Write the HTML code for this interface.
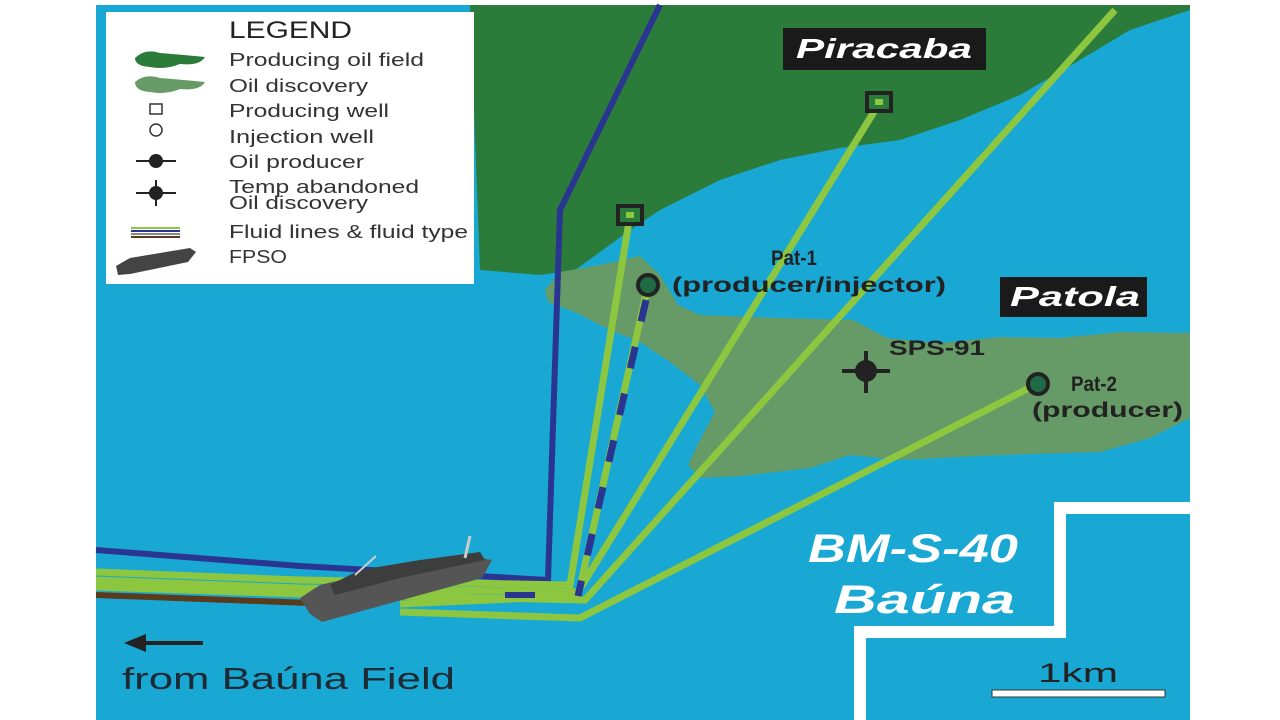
<!DOCTYPE html>
<html><head><meta charset="utf-8"><style>
html,body{margin:0;padding:0;background:#fff;width:1280px;height:720px;overflow:hidden}
svg{display:block}
text{font-family:"Liberation Sans",sans-serif}
</style></head><body>
<svg width="1280" height="720" viewBox="0 0 1280 720">
<rect x="0" y="0" width="1280" height="720" fill="#fff"/>
<rect x="96" y="5" width="1094" height="715" fill="#19a8d4"/>
<path d="M425,5 L1190,5 L1190,10 L1130,30 L1080,60 L1020,95 L960,120 L900,140 L840,148 L780,160 L720,180 L660,210 L630,230 L600,252 L575,270 L540,275 L480,270 L470,5 Z" fill="#2b7c3b"/>
<path d="M545,290 L560,272 L600,265 L640,256 L660,275 L678,305 L700,315 L780,318 L853,320 L887,338 L940,343 L1000,337 L1060,338 L1120,332 L1190,333 L1190,418 L1150,438 L1100,452 L1000,455 L900,460 L850,455 L810,468 L740,476 L700,478 L688,465 L700,440 L715,412 L700,385 L670,362 L640,342 L610,330 L575,312 L548,302 Z" fill="#669a66"/>
<path d="M860,720 L860,632 L1060,632 L1060,508 L1190,508" fill="none" stroke="#fff" stroke-width="12"/>
<path d="M660,5 L560,210 L548,580 L300,566 L96,550" fill="none" stroke="#2a3592" stroke-width="6"/>
<path d="M96,595 L310,603" stroke="#5a3a1a" stroke-width="6"/>
<g fill="none" stroke="#8dc63f" stroke-width="7">
<path d="M630,215 L570,585 L300,580 L96,572"/>
<path d="M880,102 L578,592 L300,588 L96,580"/>
<path d="M1115,10 L585,600 L300,594 L96,587"/>
<path d="M1035,385 L580,618 L400,612"/>
<path d="M648,285 L578,596 L400,604"/>
</g>
<path d="M646,300 L578,596" fill="none" stroke="#2a3592" stroke-width="7" stroke-dasharray="22,26"/>
<rect x="505" y="592" width="30" height="6" fill="#2a3592"/>
<path d="M300,598 L320,585 L400,566 L470,556 L492,560 L482,578 L380,606 L322,622 L310,614 Z" fill="#555"/>
<path d="M330,585 L360,570 L420,560 L480,552 L485,560 L400,578 L335,595 Z" fill="#3d3d3d"/>
<line x1="465" y1="558" x2="470" y2="536" stroke="#ccc" stroke-width="3"/>
<line x1="355" y1="575" x2="376" y2="556" stroke="#ccc" stroke-width="2"/>
<rect x="618" y="206" width="24" height="18" fill="#2b7c3b" stroke="#222" stroke-width="4"/>
<rect x="626" y="212" width="8" height="6" fill="#8dc63f"/>
<rect x="867" y="93" width="24" height="18" fill="#2b7c3b" stroke="#222" stroke-width="4"/>
<rect x="875" y="99" width="8" height="6" fill="#8dc63f"/>
<circle cx="648" cy="285" r="10" fill="#1f6b45" stroke="#222" stroke-width="4"/>
<circle cx="1038" cy="384" r="10" fill="#1f6b45" stroke="#222" stroke-width="4"/>
<circle cx="866" cy="371" r="11" fill="#222"/>
<line x1="842" y1="371" x2="890" y2="371" stroke="#222" stroke-width="4"/>
<line x1="866" y1="351" x2="866" y2="393" stroke="#222" stroke-width="4"/>
<g font-size="21" fill="#222" font-weight="bold">
<text x="771" y="265" textLength="46" lengthAdjust="spacingAndGlyphs">Pat-1</text>
<text x="672" y="292" textLength="274" lengthAdjust="spacingAndGlyphs">(producer/injector)</text>
<text x="889" y="355" textLength="96" lengthAdjust="spacingAndGlyphs">SPS-91</text>
<text x="1071" y="391" textLength="46" lengthAdjust="spacingAndGlyphs">Pat-2</text>
<text x="1032" y="417" textLength="151" lengthAdjust="spacingAndGlyphs">(producer)</text>
</g>
<rect x="783" y="28" width="203" height="42" fill="#1a1a1a"/>
<text x="796" y="58" font-size="28" fill="#fff" font-weight="bold" font-style="italic" textLength="176" lengthAdjust="spacingAndGlyphs">Piracaba</text>
<rect x="1000" y="277" width="147" height="40" fill="#1a1a1a"/>
<text x="1010" y="306" font-size="28" fill="#fff" font-weight="bold" font-style="italic" textLength="130" lengthAdjust="spacingAndGlyphs">Patola</text>
<text x="808" y="562" font-size="40" fill="#fff" font-weight="bold" font-style="italic" textLength="210" lengthAdjust="spacingAndGlyphs">BM-S-40</text>
<text x="834" y="613" font-size="40" fill="#fff" font-weight="bold" font-style="italic" textLength="181" lengthAdjust="spacingAndGlyphs">Baúna</text>
<text x="1038" y="682" font-size="27" fill="#222" textLength="80" lengthAdjust="spacingAndGlyphs">1km</text>
<rect x="992" y="690" width="173" height="7" fill="#fff" stroke="#333" stroke-width="1"/>
<line x1="140" y1="643" x2="203" y2="643" stroke="#222" stroke-width="4"/>
<path d="M124,643 L146,634 L146,652 Z" fill="#222"/>
<text x="122" y="689" font-size="31" fill="#1d2a33" textLength="333" lengthAdjust="spacingAndGlyphs">from Baúna Field</text>
<rect x="106" y="12" width="368" height="272" fill="#fff"/>
<text x="229" y="38" font-size="24" fill="#222" textLength="123" lengthAdjust="spacingAndGlyphs">LEGEND</text>
<g font-size="18" fill="#333">
<text x="229" y="66" textLength="195" lengthAdjust="spacingAndGlyphs">Producing oil field</text>
<text x="229" y="92" textLength="139" lengthAdjust="spacingAndGlyphs">Oil discovery</text>
<text x="229" y="117" textLength="160" lengthAdjust="spacingAndGlyphs">Producing well</text>
<text x="229" y="143" textLength="145" lengthAdjust="spacingAndGlyphs">Injection well</text>
<text x="229" y="168" textLength="135" lengthAdjust="spacingAndGlyphs">Oil producer</text>
<text x="229" y="193" textLength="190" lengthAdjust="spacingAndGlyphs">Temp abandoned</text>
<text x="229" y="209" textLength="139" lengthAdjust="spacingAndGlyphs">Oil discovery</text>
<text x="229" y="238" textLength="239" lengthAdjust="spacingAndGlyphs">Fluid lines &amp; fluid type</text>
<text x="229" y="263" textLength="58" lengthAdjust="spacingAndGlyphs">FPSO</text>
</g>
<path d="M135,58 Q145,48 160,53 Q185,55 205,57 Q200,66 180,64 Q165,70 150,67 Q135,66 135,58Z" fill="#2b7c3b"/>
<path d="M135,82 Q145,73 160,78 Q185,80 205,82 Q200,91 180,89 Q165,95 150,92 Q135,91 135,82Z" fill="#669a66"/>
<rect x="150" y="104" width="12" height="10" fill="none" stroke="#333" stroke-width="1.5"/>
<circle cx="156" cy="130" r="6" fill="none" stroke="#333" stroke-width="1.5"/>
<circle cx="156" cy="161" r="7" fill="#222"/><line x1="136" y1="161" x2="176" y2="161" stroke="#222" stroke-width="2"/>
<circle cx="156" cy="193" r="7" fill="#222"/><line x1="136" y1="193" x2="176" y2="193" stroke="#222" stroke-width="2"/><line x1="156" y1="180" x2="156" y2="206" stroke="#222" stroke-width="2"/>
<line x1="131" y1="228" x2="180" y2="228" stroke="#8dc63f" stroke-width="2"/>
<line x1="131" y1="231" x2="180" y2="231" stroke="#2a3592" stroke-width="2"/>
<line x1="131" y1="234" x2="180" y2="234" stroke="#888" stroke-width="2"/>
<line x1="131" y1="237" x2="180" y2="237" stroke="#5a3a1a" stroke-width="2"/>
<path d="M116,266 L130,258 L190,248 L196,252 L188,262 L130,274 L118,275 Z" fill="#444"/>
</svg>
</body></html>
